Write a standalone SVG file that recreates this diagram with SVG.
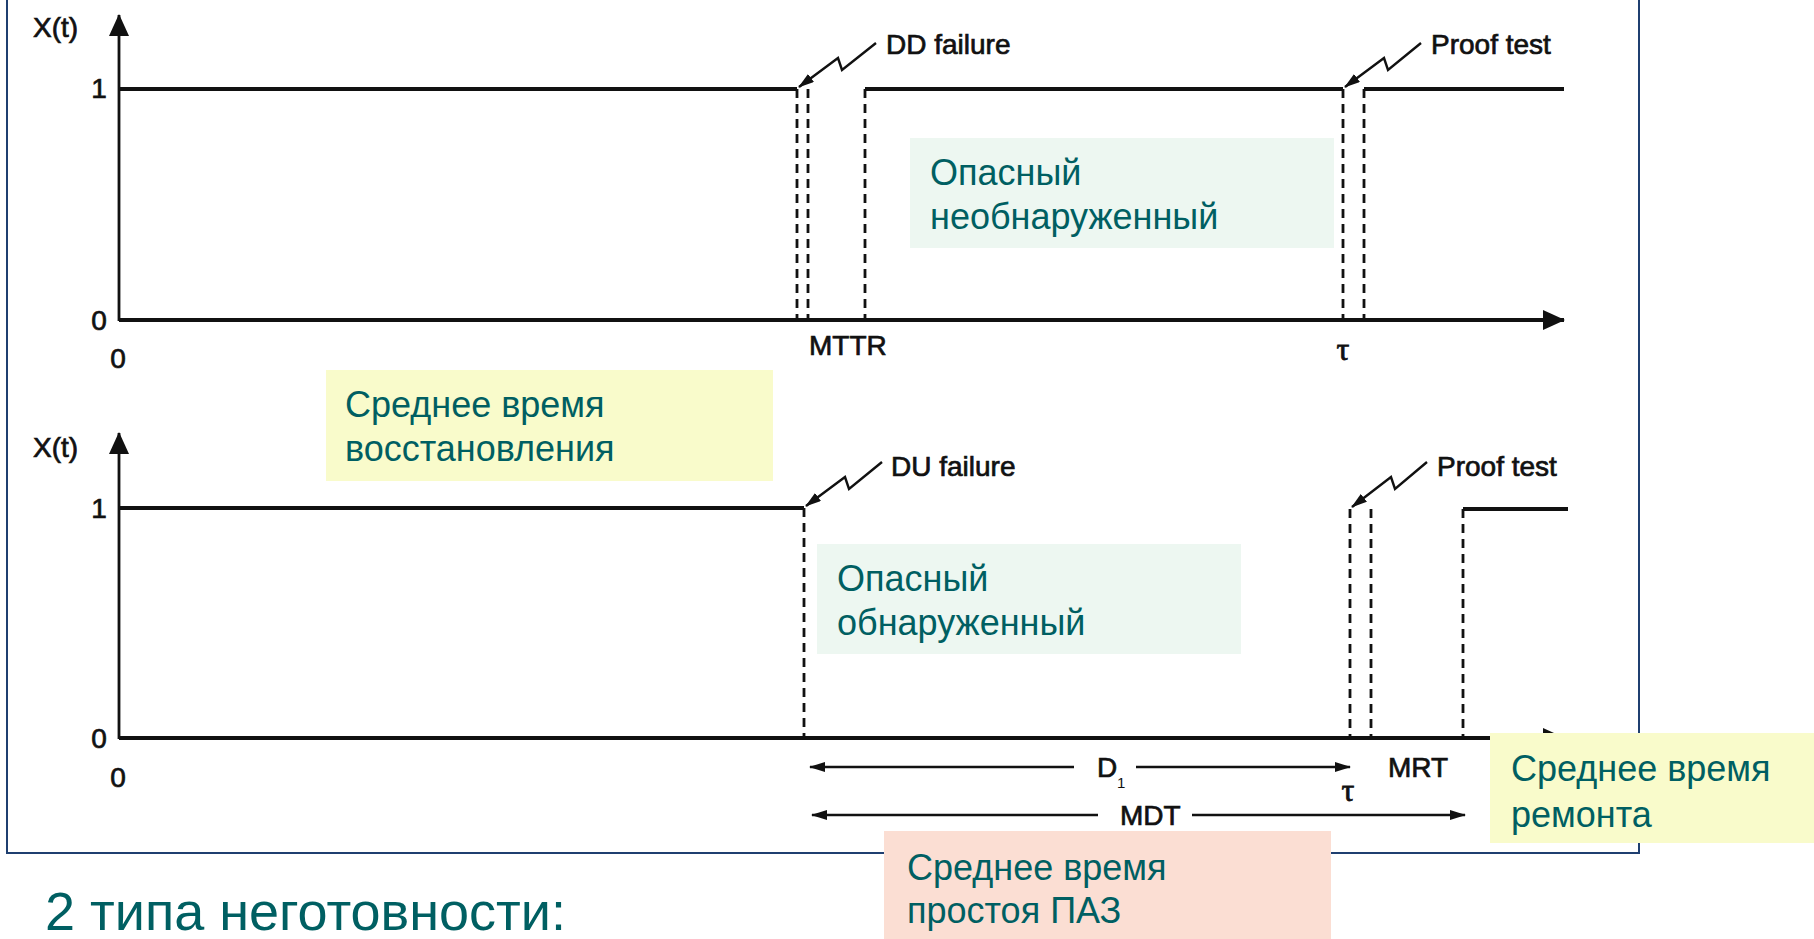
<svg xmlns="http://www.w3.org/2000/svg" width="1814" height="939" viewBox="0 0 1814 939">
  <defs>
    <style>
      .frame{fill:none;stroke:#1F3F70;stroke-width:2}
      .lvl{fill:none;stroke:#111;stroke-width:3.8}
      .ax{fill:none;stroke:#111;stroke-width:2.8}
      .dash{fill:none;stroke:#111;stroke-width:2.8;stroke-dasharray:9 6}
      .bolt{fill:none;stroke:#111;stroke-width:2.4;stroke-linejoin:miter}
      .dim{fill:none;stroke:#111;stroke-width:2.6}
      .lbl{font-family:"Liberation Sans",Arial,sans-serif;font-size:28px;fill:#111;stroke:#111;stroke-width:0.7}
      .sub{font-family:"Liberation Sans",Arial,sans-serif;font-size:15px;fill:#111}
      .tau{font-family:"Liberation Serif","Times New Roman",serif;font-size:32px;fill:#111;stroke:#111;stroke-width:0.8}
      .note{font-family:"Liberation Sans",Arial,sans-serif;font-size:36px;fill:#005F62}
      .title{font-family:"Liberation Sans",Arial,sans-serif;font-size:54px;fill:#005F62}
      .yellow{fill:#F9FBCB}
      .mint{fill:#EDF7F1}
      .pink{fill:#FBDED3}
    </style>
    <marker id="ah" viewBox="0 0 16 10" refX="15" refY="5" markerWidth="16" markerHeight="10" markerUnits="userSpaceOnUse" orient="auto-start-reverse">
      <path d="M0,0 L16,5 L0,10 z" fill="#111"/>
    </marker>
    <marker id="axh" viewBox="0 0 22 20" refX="21" refY="10" markerWidth="22" markerHeight="20" markerUnits="userSpaceOnUse" orient="auto">
      <path d="M0,0 L22,10 L0,20 z" fill="#111"/>
    </marker>
  </defs>

  <!-- outer frame -->
  <rect class="frame" x="7" y="-5" width="1632" height="858"/>

  <g id="connectors">
    <!-- upper chart: DD failure -->
    <line class="ax" x1="119" y1="321" x2="119" y2="15" marker-end="url(#axh)"/>
    <line class="lvl" x1="119" y1="320" x2="1564" y2="320" marker-end="url(#axh)"/>
    <polyline class="lvl" points="119,89 797,89"/>
    <polyline class="lvl" points="865,89 1343,89"/>
    <polyline class="lvl" points="1364,89 1564,89"/>
    <line class="dash" x1="797" y1="89" x2="797" y2="320"/>
    <line class="dash" x1="808" y1="89" x2="808" y2="320"/>
    <line class="dash" x1="865" y1="89" x2="865" y2="320"/>
    <line class="dash" x1="1343" y1="89" x2="1343" y2="320"/>
    <line class="dash" x1="1364" y1="89" x2="1364" y2="320"/>
    <path class="bolt" d="M876,43 L842,70 L838,58 L799,87" marker-end="url(#ah)"/>
    <path class="bolt" d="M1421,43 L1388,70 L1384,58 L1345,87" marker-end="url(#ah)"/>

    <!-- lower chart: DU failure -->
    <line class="ax" x1="119" y1="739" x2="119" y2="433" marker-end="url(#axh)"/>
    <line class="lvl" x1="119" y1="738" x2="1564" y2="738" marker-end="url(#axh)"/>
    <polyline class="lvl" points="119,508 804,508"/>
    <polyline class="lvl" points="1463,509 1568,509"/>
    <line class="dash" x1="804" y1="508" x2="804" y2="738"/>
    <line class="dash" x1="1350" y1="509" x2="1350" y2="738"/>
    <line class="dash" x1="1371" y1="509" x2="1371" y2="738"/>
    <line class="dash" x1="1463" y1="509" x2="1463" y2="738"/>
    <path class="bolt" d="M882,462 L849,489 L845,477 L806,506" marker-end="url(#ah)"/>
    <path class="bolt" d="M1427,462 L1395,489 L1391,477 L1352,507" marker-end="url(#ah)"/>

    <!-- duration dimensions -->
    <line class="dim" x1="810" y1="767" x2="1074" y2="767" marker-start="url(#ah)"/>
    <line class="dim" x1="1136" y1="767" x2="1350" y2="767" marker-end="url(#ah)"/>
    <line class="dim" x1="812" y1="815" x2="1098" y2="815" marker-start="url(#ah)"/>
    <line class="dim" x1="1192" y1="815" x2="1465" y2="815" marker-end="url(#ah)"/>
  </g>

  <!-- axis and event labels -->
  <g id="labels-upper">
    <text class="lbl" x="33" y="37" font-size="27">X(t)</text>
    <text class="lbl" x="99" y="98" text-anchor="middle">1</text>
    <text class="lbl" x="99" y="330" text-anchor="middle">0</text>
    <text class="lbl" x="118" y="368" text-anchor="middle">0</text>
    <text class="lbl" x="886" y="54">DD failure</text>
    <text class="lbl" x="1431" y="54">Proof test</text>
    <text class="lbl" x="809" y="355">MTTR</text>
    <text class="tau" x="1343" y="360" text-anchor="middle">τ</text>
  </g>
  <g id="labels-lower">
    <text class="lbl" x="33" y="457" font-size="27">X(t)</text>
    <text class="lbl" x="99" y="518" text-anchor="middle">1</text>
    <text class="lbl" x="99" y="748" text-anchor="middle">0</text>
    <text class="lbl" x="118" y="787" text-anchor="middle">0</text>
    <text class="lbl" x="891" y="476">DU failure</text>
    <text class="lbl" x="1437" y="476">Proof test</text>
    <text class="lbl" x="1388" y="777">MRT</text>
    <text class="tau" x="1348" y="801" text-anchor="middle">τ</text>
    <text class="lbl" x="1097" y="777">D</text>
    <text class="sub" x="1117" y="788">1</text>
    <text class="lbl" x="1120" y="825">MDT</text>
  </g>

  <!-- annotation boxes -->
  <g id="box-restore">
    <rect class="yellow" x="326" y="370" width="447" height="111"/>
    <text class="note" x="345" y="417">Среднее время</text>
    <text class="note" x="345" y="461">восстановления</text>
  </g>
  <g id="box-undetected">
    <rect class="mint" x="910" y="138" width="424" height="110"/>
    <text class="note" x="930" y="185">Опасный</text>
    <text class="note" x="930" y="229">необнаруженный</text>
  </g>
  <g id="box-detected">
    <rect class="mint" x="817" y="544" width="424" height="110"/>
    <text class="note" x="837" y="591">Опасный</text>
    <text class="note" x="837" y="635">обнаруженный</text>
  </g>
  <g id="box-repair">
    <rect class="yellow" x="1490" y="733" width="324" height="110"/>
    <text class="note" x="1511" y="781">Среднее время</text>
    <text class="note" x="1511" y="827">ремонта</text>
  </g>
  <g id="box-downtime">
    <rect class="pink" x="884" y="831" width="447" height="110"/>
    <text class="note" x="907" y="880">Среднее время</text>
    <text class="note" x="907" y="923">простоя ПАЗ</text>
  </g>

  <g id="caption">
    <text class="title" x="45" y="930">2 типа неготовности:</text>
  </g>
</svg>
